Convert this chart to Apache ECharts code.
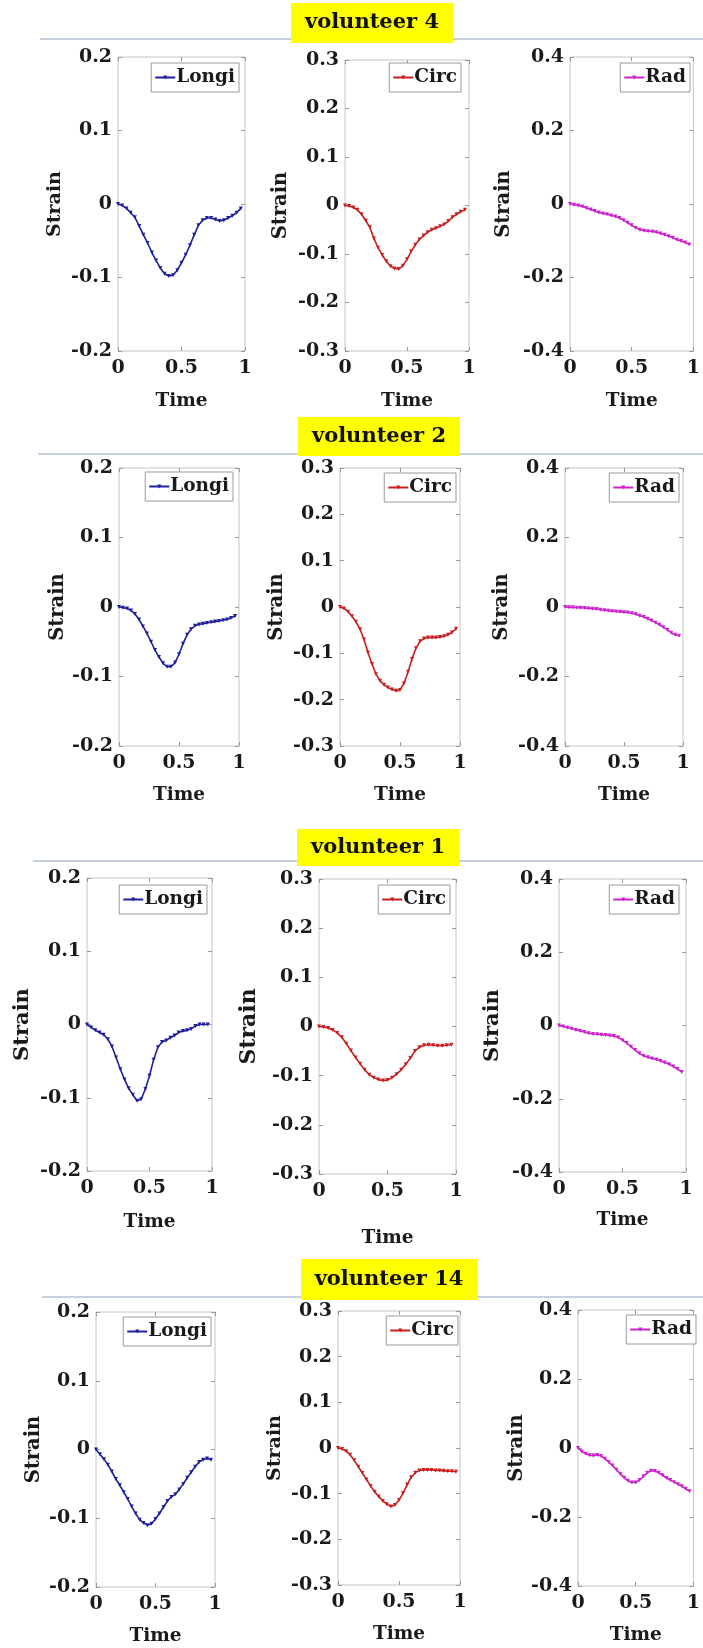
<!DOCTYPE html>
<html>
<head>
<meta charset="utf-8">
<title>Strain curves per volunteer</title>
<script src="https://cdn.jsdelivr.net/npm/echarts@6/dist/echarts.min.js"></script>
<style>
  html, body { margin: 0; padding: 0; background: #ffffff; }
  #chart { width: 703px; height: 1648px; }
</style>
</head>
<body>
<div id="chart"></div>
<script>
// Normalised time samples shared by every curve
const TIME = [0, 0.033, 0.067, 0.1, 0.133, 0.167, 0.2, 0.233, 0.267, 0.3,
  0.333, 0.367, 0.4, 0.433, 0.467, 0.5, 0.533, 0.567, 0.6, 0.633,
  0.667, 0.7, 0.733, 0.767, 0.8, 0.833, 0.867, 0.9, 0.933, 0.967];

// volunteer 4
const vol4Longi = [0, -0.002, -0.006, -0.012, -0.018, -0.030, -0.042, -0.053, -0.066, -0.077,
  -0.087, -0.095, -0.098, -0.097, -0.090, -0.080, -0.069, -0.056, -0.042, -0.029,
  -0.022, -0.019, -0.019, -0.021, -0.023, -0.022, -0.019, -0.016, -0.012, -0.006];
const vol4Circ = [0, -0.001, -0.004, -0.009, -0.018, -0.031, -0.045, -0.068, -0.087, -0.102,
  -0.115, -0.125, -0.130, -0.131, -0.124, -0.111, -0.095, -0.081, -0.070, -0.062,
  -0.055, -0.050, -0.047, -0.043, -0.039, -0.032, -0.024, -0.018, -0.013, -0.009];
const vol4Rad = [0, -0.002, -0.004, -0.007, -0.011, -0.015, -0.019, -0.023, -0.026, -0.028,
  -0.031, -0.034, -0.038, -0.044, -0.051, -0.058, -0.065, -0.070, -0.073, -0.074,
  -0.075, -0.077, -0.080, -0.084, -0.088, -0.092, -0.097, -0.101, -0.105, -0.110];

// volunteer 2
const vol2Longi = [0, -0.001, -0.002, -0.005, -0.010, -0.018, -0.028, -0.038, -0.050, -0.062,
  -0.072, -0.081, -0.086, -0.086, -0.080, -0.068, -0.053, -0.040, -0.032, -0.027,
  -0.025, -0.024, -0.023, -0.022, -0.021, -0.020, -0.019, -0.018, -0.016, -0.013];
const vol2Circ = [0, -0.003, -0.010, -0.020, -0.032, -0.048, -0.070, -0.098, -0.123, -0.145,
  -0.159, -0.168, -0.174, -0.178, -0.181, -0.179, -0.165, -0.140, -0.112, -0.089,
  -0.074, -0.068, -0.066, -0.066, -0.066, -0.065, -0.063, -0.060, -0.055, -0.047];
const vol2Rad = [0, -0.001, -0.001, -0.002, -0.002, -0.003, -0.004, -0.005, -0.006, -0.008,
  -0.009, -0.011, -0.012, -0.013, -0.014, -0.015, -0.016, -0.018, -0.021, -0.025,
  -0.029, -0.034, -0.039, -0.045, -0.051, -0.058, -0.066, -0.074, -0.080, -0.083];

// volunteer 1
const vol1Longi = [0, -0.004, -0.008, -0.011, -0.014, -0.020, -0.030, -0.045, -0.061, -0.075,
  -0.087, -0.096, -0.104, -0.102, -0.088, -0.070, -0.048, -0.031, -0.024, -0.022,
  -0.018, -0.015, -0.011, -0.009, -0.008, -0.006, -0.002, 0, 0, 0];
const vol1Circ = [0, -0.001, -0.003, -0.007, -0.013, -0.022, -0.035, -0.049, -0.063, -0.076,
  -0.088, -0.098, -0.104, -0.108, -0.110, -0.109, -0.104, -0.097, -0.088, -0.077,
  -0.064, -0.050, -0.042, -0.038, -0.037, -0.038, -0.039, -0.039, -0.038, -0.037];
const vol1Rad = [0, -0.003, -0.006, -0.009, -0.012, -0.015, -0.018, -0.021, -0.023, -0.024,
  -0.025, -0.026, -0.027, -0.029, -0.033, -0.040, -0.048, -0.058, -0.067, -0.076,
  -0.083, -0.087, -0.090, -0.093, -0.097, -0.101, -0.106, -0.112, -0.119, -0.127];

// volunteer 14
const vol14Longi = [0, -0.007, -0.014, -0.022, -0.032, -0.043, -0.052, -0.062, -0.072, -0.083,
  -0.093, -0.102, -0.107, -0.110, -0.108, -0.101, -0.093, -0.084, -0.075, -0.069,
  -0.065, -0.058, -0.050, -0.041, -0.033, -0.025, -0.018, -0.015, -0.013, -0.015];
const vol14Circ = [0, -0.002, -0.007, -0.015, -0.027, -0.041, -0.055, -0.069, -0.083, -0.096,
  -0.106, -0.116, -0.123, -0.128, -0.125, -0.114, -0.099, -0.080, -0.064, -0.054,
  -0.049, -0.048, -0.048, -0.048, -0.049, -0.049, -0.050, -0.051, -0.051, -0.052];
const vol14Rad = [0, -0.010, -0.017, -0.021, -0.022, -0.020, -0.023, -0.031, -0.041, -0.051,
  -0.063, -0.075, -0.086, -0.095, -0.100, -0.100, -0.093, -0.082, -0.072, -0.066,
  -0.067, -0.072, -0.079, -0.087, -0.093, -0.099, -0.105, -0.111, -0.118, -0.125];

const ROW_TITLES = ['volunteer 4', 'volunteer 2', 'volunteer 1', 'volunteer 14'];
const ROW_DATA = [
  [vol4Longi, vol4Circ, vol4Rad],
  [vol2Longi, vol2Circ, vol2Rad],
  [vol1Longi, vol1Circ, vol1Rad],
  [vol14Longi, vol14Circ, vol14Rad]
];

// Strain component: legend name, axis range and tick step
const KIND_NAMES = ['Longi', 'Circ', 'Rad'];
const KIND_RANGE = [0.2, 0.3, 0.4];
const KIND_STEP = [0.1, 0.1, 0.2];
const KIND_COLORS = ['#1f1f9e', '#c81e1e', '#cc22cc'];

const X_TICKS = [0, 0.5, 1];

// ---- layout (pixels) ----
// plot boxes [left, top, width, height], Strain-name gap/size, Time-name gap, legend offsets
const PANEL_LAYOUT = [
  { box: [118, 57, 127, 294], sGap: 52, sSize: 19, tGap: 41, lgR: 6, lgT: 6 },
  { box: [345, 60, 124, 291], sGap: 53, sSize: 19.5, tGap: 41, lgR: 8, lgT: 3 },
  { box: [570, 57, 125, 294], sGap: 55, sSize: 19.5, tGap: 41, lgR: 5, lgT: 6 },
  { box: [119, 468, 120, 278], sGap: 50, sSize: 19.5, tGap: 40, lgR: 6, lgT: 4 },
  { box: [340, 468, 120, 278], sGap: 52, sSize: 19.5, tGap: 40, lgR: 4, lgT: 5 },
  { box: [565, 468, 118, 278], sGap: 52, sSize: 19.5, tGap: 40, lgR: 4, lgT: 5 },
  { box: [87, 878, 125, 293], sGap: 53, sSize: 21, tGap: 42, lgR: 5, lgT: 7 },
  { box: [319, 879, 137, 295], sGap: 58, sSize: 22, tGap: 55, lgR: 6, lgT: 6 },
  { box: [559, 879, 127, 293], sGap: 55, sSize: 21, tGap: 39, lgR: 7, lgT: 6 },
  { box: [96, 1312, 119, 275], sGap: 51, sSize: 19.5, tGap: 40, lgR: 4, lgT: 5 },
  { box: [338, 1311, 122, 274], sGap: 52, sSize: 19, tGap: 40, lgR: 2, lgT: 5 },
  { box: [578, 1310, 120, 276], sGap: 50, sSize: 19.5, tGap: 40, lgR: 2, lgT: 5 }
];
// yellow title boxes [x, y, w, h] and separator lines [x0, y]
const TITLE_BOXES = [[291, 3, 162, 40], [298, 417, 162, 39], [297, 829, 162, 37], [301, 1259, 176, 41]];
const RULES = [[40, 39], [38, 454], [33, 861], [42, 1297]];

const FONT = 'DejaVu Serif';
const INK = '#1a1a1a';
const FRAME = '#c4c4c4';
const W = 703;

const grids = [], xAxes = [], yAxes = [], series = [], legends = [], graphics = [];

const fmt = v => String(Math.round(v * 10) / 10);

PANEL_LAYOUT.forEach((p, k) => {
  const row = Math.floor(k / 3), kind = k % 3;
  const [l, t, w, h] = p.box;
  const r = KIND_RANGE[kind];
  grids.push({ left: l, top: t, width: w, height: h, show: true,
    borderColor: FRAME, borderWidth: 1, backgroundColor: '#ffffff' });
  const tick = { show: true, inside: true, length: 4, lineStyle: { color: '#9a9a9a', width: 1 } };
  const noLine = { show: false, onZero: false };
  // bottom axis with labels, top axis for the inner ticks of the box
  xAxes.push({ type: 'value', gridIndex: k, min: X_TICKS[0], max: X_TICKS[X_TICKS.length - 1],
    interval: X_TICKS[1] - X_TICKS[0], position: 'bottom',
    axisLine: noLine, axisTick: tick, splitLine: { show: false },
    axisLabel: { margin: 8, color: INK, fontFamily: FONT, fontWeight: 'bold', fontSize: 19, formatter: fmt },
    name: 'Time', nameLocation: 'middle', nameGap: p.tGap,
    nameTextStyle: { color: INK, fontFamily: FONT, fontWeight: 'bold', fontSize: 18.5 } });
  xAxes.push({ type: 'value', gridIndex: k, min: 0, max: 1, interval: 0.5, position: 'top',
    axisLine: noLine, axisTick: tick, splitLine: { show: false }, axisLabel: { show: false } });
  yAxes.push({ type: 'value', gridIndex: k, min: -r, max: r, interval: KIND_STEP[kind], position: 'left',
    axisLine: noLine, axisTick: tick, splitLine: { show: false },
    axisLabel: { margin: 6, color: INK, fontFamily: FONT, fontWeight: 'bold', fontSize: 19, formatter: fmt },
    name: 'Strain', nameLocation: 'middle', nameGap: p.sGap + 1, nameRotate: 90,
    nameTextStyle: { color: INK, fontFamily: FONT, fontWeight: 'bold', fontSize: p.sSize } });
  yAxes.push({ type: 'value', gridIndex: k, min: -r, max: r, interval: KIND_STEP[kind], position: 'right',
    axisLine: noLine, axisTick: tick, splitLine: { show: false }, axisLabel: { show: false } });

  const vals = ROW_DATA[row][kind];
  series.push({
    type: 'line', name: KIND_NAMES[kind], xAxisIndex: 2 * k, yAxisIndex: 2 * k,
    data: TIME.map((tv, i) => [tv, vals[i]]),
    color: KIND_COLORS[kind],
    lineStyle: { width: 1.6, color: KIND_COLORS[kind] },
    itemStyle: { color: KIND_COLORS[kind] },
    symbol: 'triangle', symbolRotate: 180, symbolSize: 4, showSymbol: true,
    silent: true, animation: false
  });

  legends.push({
    data: [KIND_NAMES[kind]], selectedMode: false,
    right: W - (l + w) + p.lgR, top: t + p.lgT,
    orient: 'horizontal', padding: [5, 4, 5, 3],
    backgroundColor: '#ffffff', borderColor: '#9a9a9a', borderWidth: 1, borderRadius: 0,
    itemWidth: 20, itemHeight: 5, itemGap: 0,
    textStyle: { color: INK, fontFamily: FONT, fontWeight: 'bold', fontSize: 18.5, padding: [0, 0, 0, -4] }
  });
});

// row separators, then the highlighted row titles on top of them
RULES.forEach(([x0, y]) => {
  graphics.push({ type: 'line', z: 10, shape: { x1: x0, y1: y, x2: W, y2: y },
    style: { stroke: '#8ea3bb', lineWidth: 1 } });
});
TITLE_BOXES.forEach(([x, y, w, h], i) => {
  graphics.push({ type: 'rect', z: 11, shape: { x: x, y: y, width: w, height: h },
    style: { fill: '#ffff00' } });
  graphics.push({ type: 'text', z: 12, x: x + w / 2, y: y + h / 2,
    style: { text: ROW_TITLES[i], fill: '#111111', font: 'bold 21px "DejaVu Serif"',
      textAlign: 'center', textVerticalAlign: 'middle' } });
});

const chart = echarts.init(document.getElementById('chart'), null, { renderer: 'canvas', width: 703, height: 1648 });
chart.setOption({
  animation: false,
  backgroundColor: '#ffffff',
  grid: grids,
  xAxis: xAxes,
  yAxis: yAxes,
  legend: legends,
  series: series,
  graphic: graphics
});
</script>
</body>
</html>
